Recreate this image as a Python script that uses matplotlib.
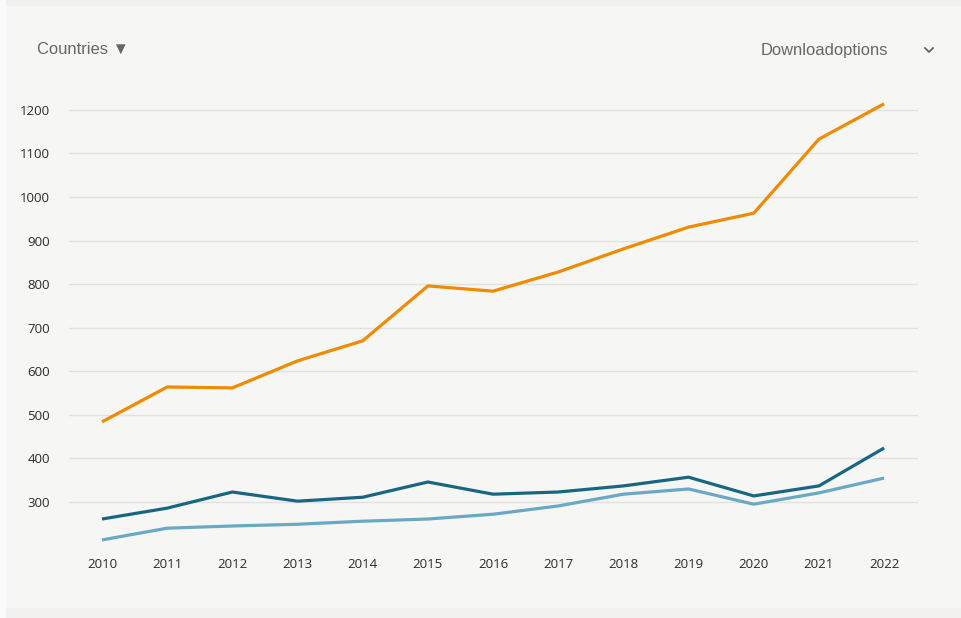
import matplotlib
matplotlib.use("Agg")
import matplotlib.pyplot as plt
from matplotlib.patches import Rectangle
from matplotlib.lines import Line2D

years = [2010, 2011, 2012, 2013, 2014, 2015, 2016, 2017, 2018, 2019, 2020, 2021, 2022]
orange_series = [484, 564, 562, 624, 670, 796, 784, 828, 881, 931, 963, 1133, 1214]
dark_series = [261, 286, 323, 302, 311, 346, 318, 323, 337, 357, 314, 337, 424]
light_series = [213, 240, 245, 249, 256, 261, 272, 291, 318, 330, 295, 321, 355]
y_ticks = [300, 400, 500, 600, 700, 800, 900, 1000, 1100, 1200]
header_left = "Countries ▼"
header_right = "Downloadoptions"

W, H = 961, 618
fig = plt.figure(figsize=(W / 100, H / 100), dpi=100)
fig.patch.set_facecolor("#f1f0ee")
# left white strip and main panel
fig.add_artist(Rectangle((0, 0), 6 / W, 1, transform=fig.transFigure, facecolor="#fafafa", edgecolor="none", zorder=0))
fig.add_artist(Rectangle((6 / W, 1 - 608 / H), 1 - 6 / W, (608 - 6) / H, transform=fig.transFigure,
                         facecolor="#f6f6f4", edgecolor="none", zorder=0))

ax_left, ax_right = 69 / W, 918 / W
ax_bottom, ax_top = 1 - 545.6 / H, 1 - 92.5 / H
ax = fig.add_axes([ax_left, ax_bottom, ax_right - ax_left, ax_top - ax_bottom])
ax.set_facecolor("none")

ax.plot(years, orange_series, color="#f08a00", lw=2.3, solid_capstyle="butt", zorder=3)
ax.plot(years, dark_series, color="#176782", lw=2.3, solid_capstyle="butt", zorder=3)
ax.plot(years, light_series, color="#6aa9c6", lw=2.3, solid_capstyle="butt", zorder=2)

ax.set_xlim(2009.494, 2022.52)
ax.set_ylim(200, 1240)
ax.set_yticks(y_ticks)
ax.set_xticks(years)
ax.set_xticklabels([str(y) for y in years])
ax.grid(axis="y", color="#e1e1e1", lw=1)
ax.set_axisbelow(True)
for s in ax.spines.values():
    s.set_visible(False)
ax.tick_params(axis="both", length=0, labelsize=9.5, labelcolor="#2b2b2b")
ax.tick_params(axis="y", pad=13.5)
ax.tick_params(axis="x", pad=9)
for lab in ax.get_xticklabels() + ax.get_yticklabels():
    lab.set_family(["Open Sans", "DejaVu Sans"])

fig.text(37 / W, 1 - 49 / H, header_left, ha="left", va="center", fontsize=11.9, color="#666666",
         family=["Liberation Sans", "DejaVu Sans"])
fig.text(761 / W, 1 - 50 / H, header_right, ha="left", va="center", fontsize=11.9, color="#666666",
         family=["Liberation Sans", "DejaVu Sans"])
# chevron
cx, cy = 929, 50
fig.add_artist(Line2D([(cx - 4) / W, cx / W, (cx + 4) / W], [1 - (cy - 2) / H, 1 - (cy + 2) / H, 1 - (cy - 2) / H],
                      transform=fig.transFigure, color="#666666", lw=1.3))

fig.savefig("out.png", dpi=100, facecolor=fig.get_facecolor())
